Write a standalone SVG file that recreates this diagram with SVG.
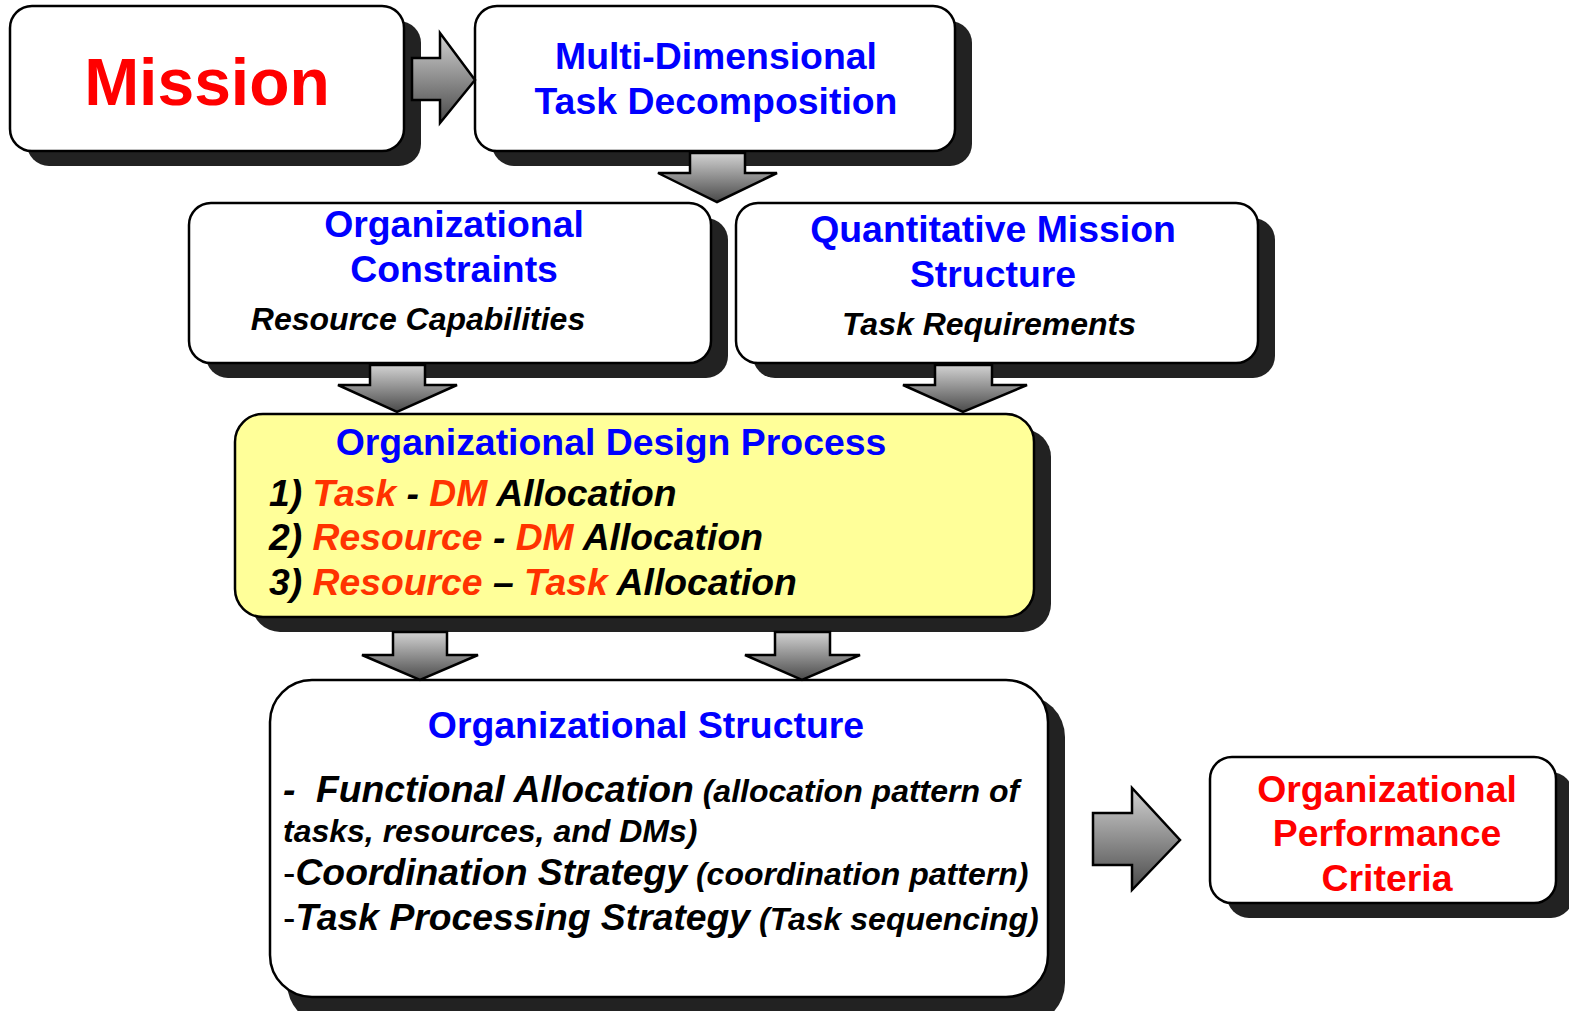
<svg xmlns="http://www.w3.org/2000/svg" width="1569" height="1011" viewBox="0 0 1569 1011">
  <defs>
    <linearGradient id="arrowFill" x1="0" y1="0" x2="0" y2="1">
      <stop offset="0" stop-color="#d2d2d2"/>
      <stop offset="1" stop-color="#4a4a4a"/>
    </linearGradient>
    <style>
      .shadow { fill: #222222; }
      .box { fill: #ffffff; stroke: #000000; stroke-width: 2.5; }
      .yellow { fill: #ffff99; stroke: #000000; stroke-width: 2.5; }
      .arrow { fill: url(#arrowFill); stroke: #000000; stroke-width: 2.5; stroke-linejoin: miter; }
      text { font-family: "Liberation Sans", Arial, sans-serif; font-weight: bold; }
      .title { font-size: 37.4px; fill: #0000ff; text-anchor: middle; }
      .red { fill: #ff0000; }
      .sub { font-size: 32px; font-style: italic; fill: #000000; text-anchor: middle; }
      .item { font-size: 37.3px; font-style: italic; fill: #000000; }
      .hot { fill: #ff3300; }
      .big { font-size: 37.3px; }
      .small { font-size: 32px; }
      .plain { font-weight: normal; font-style: normal; }
    </style>
  </defs>

  <!-- Mission -->
  <g id="mission">
    <rect class="shadow" x="27" y="21" width="394" height="145" rx="22"/>
    <rect class="box" x="10" y="6" width="394" height="145" rx="22"/>
    <text x="207" y="105" text-anchor="middle" font-size="66" class="red">Mission</text>
  </g>

  <!-- Multi-Dimensional Task Decomposition -->
  <g id="task-decomposition">
    <rect class="shadow" x="492" y="21" width="480" height="145" rx="22"/>
    <rect class="box" x="475" y="6" width="480" height="145" rx="22"/>
    <text class="title" x="716" y="69">Multi-Dimensional</text>
    <text class="title" x="716" y="114">Task Decomposition</text>
  </g>

  <!-- Organizational Constraints -->
  <g id="org-constraints">
    <rect class="shadow" x="206" y="218" width="522" height="160" rx="22"/>
    <rect class="box" x="189" y="203" width="522" height="160" rx="22"/>
    <text class="title" x="454" y="237">Organizational</text>
    <text class="title" x="454" y="282">Constraints</text>
    <text class="sub" x="418" y="330">Resource Capabilities</text>
  </g>

  <!-- Quantitative Mission Structure -->
  <g id="mission-structure">
    <rect class="shadow" x="753" y="218" width="522" height="160" rx="22"/>
    <rect class="box" x="736" y="203" width="522" height="160" rx="22"/>
    <text class="title" x="993" y="242">Quantitative Mission</text>
    <text class="title" x="993" y="287">Structure</text>
    <text class="sub" x="989" y="335">Task Requirements</text>
  </g>

  <!-- Organizational Design Process -->
  <g id="design-process">
    <rect class="shadow" x="252" y="429" width="799" height="203" rx="28"/>
    <rect class="yellow" x="235" y="414" width="799" height="203" rx="28"/>
    <text class="title" x="611" y="455">Organizational Design Process</text>
    <text class="item" x="269" y="506">1) <tspan class="hot">Task</tspan> - <tspan class="hot">DM</tspan> Allocation</text>
    <text class="item" x="269" y="550">2) <tspan class="hot">Resource</tspan> - <tspan class="hot">DM</tspan> Allocation</text>
    <text class="item" x="269" y="595">3) <tspan class="hot">Resource</tspan> – <tspan class="hot">Task</tspan> Allocation</text>
  </g>

  <!-- Organizational Structure -->
  <g id="org-structure">
    <rect class="shadow" x="287" y="695" width="778" height="330" rx="42"/>
    <rect class="box" x="270" y="680" width="778" height="317" rx="42"/>
    <text class="title" x="646" y="738">Organizational Structure</text>
    <text x="283" y="802" font-style="italic" fill="#000"><tspan class="big">-</tspan><tspan class="big" x="316">Functional Allocation</tspan><tspan class="small"> (allocation pattern of</tspan></text>
    <text x="283" y="842" font-style="italic" fill="#000" class="small">tasks, resources, and DMs)</text>
    <text x="283" y="885" font-style="italic" fill="#000"><tspan class="big plain">-</tspan><tspan class="big">Coordination Strategy</tspan><tspan class="small"> (coordination pattern)</tspan></text>
    <text x="283" y="930" font-style="italic" fill="#000"><tspan class="big plain">-</tspan><tspan class="big">Task Processing Strategy</tspan><tspan class="small"> (Task sequencing)</tspan></text>
  </g>

  <!-- Organizational Performance Criteria -->
  <g id="performance-criteria">
    <rect class="shadow" x="1227" y="772" width="346" height="146" rx="22"/>
    <rect class="box" x="1210" y="757" width="346" height="146" rx="22"/>
    <text class="title red" x="1387" y="802">Organizational</text>
    <text class="title red" x="1387" y="846">Performance</text>
    <text class="title red" x="1387" y="891">Criteria</text>
  </g>

  <!-- Block arrows between stages -->
  <g id="connectors">
    <polygon class="arrow" points="412,58 440,58 440,33 475,80 440,123 440,100 412,100"/>
    <polygon class="arrow" points="690,153 745,153 745,173 777,173 717,202 658,173 690,173"/>
    <polygon class="arrow" points="370,365 425,365 425,385 457,385 397,412 338,385 370,385"/>
    <polygon class="arrow" points="935,365 992,365 992,385 1027,385 963,412 903,385 935,385"/>
    <polygon class="arrow" points="393,632 447,632 447,655 478,655 420,680 362,655 393,655"/>
    <polygon class="arrow" points="775,632 830,632 830,655 860,655 802,680 745,655 775,655"/>
    <polygon class="arrow" points="1093,813 1132,813 1132,788 1180,840 1132,890 1132,865 1093,865"/>
  </g>
</svg>
